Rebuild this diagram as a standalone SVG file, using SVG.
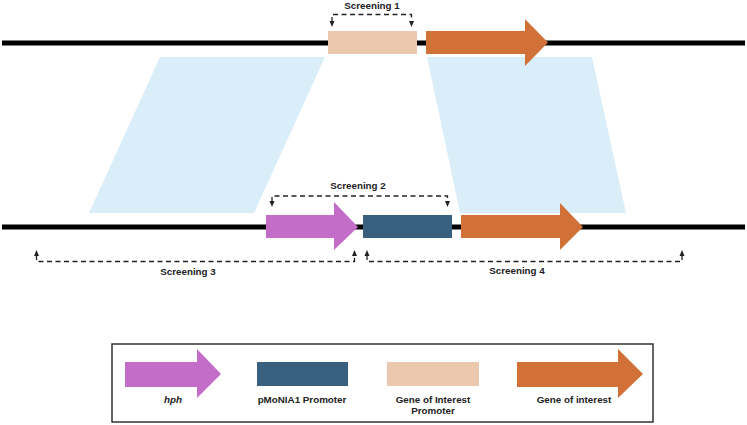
<svg xmlns="http://www.w3.org/2000/svg" width="747" height="425" viewBox="0 0 747 425">
<style>
.dna{stroke:#000;stroke-width:5;fill:none}
.hom{fill:#DAEEFA}
.peach{fill:#EBC8AE}
.orange{fill:#D27137}
.pink{fill:#C36DC9}
.navy{fill:#3A6080}
.br{stroke:#222;stroke-width:1.3;fill:none;stroke-dasharray:5 3.5}
.lbl{font-family:"Liberation Sans",Arial,sans-serif;font-weight:bold;font-size:9.8px;fill:#222;text-anchor:middle}
</style>
<g id="homology">
<polygon class="hom" points="160,57 325,57 254,213 89,213"/>
<polygon class="hom" points="427,57 592,57 626,213 460,213"/>
</g>
<g id="dna-lines">
<line class="dna" x1="2" y1="43" x2="745" y2="43"/>
<line class="dna" x1="2" y1="227" x2="745" y2="227"/>
</g>
<g id="top-promoter"><rect class="peach" x="328" y="31" width="89" height="23"/></g>
<g id="top-gene"><polygon class="orange" points="426,31 525,31 525,19 548,42.5 525,66 525,54 426,54"/></g>
<g id="hph"><polygon class="pink" points="266,215 334,215 334,202 358,227 334,250 334,238 266,238"/></g>
<g id="pMoNIA1"><rect class="navy" x="363" y="215" width="89" height="23"/></g>
<g id="bottom-gene"><polygon class="orange" points="461,215 560,215 560,203 583,227 560,250 560,238 461,238"/></g>
<g id="connectors">
<path class="br" d="M332,22 V14.5 H411.5 V22" />
<path class="br" d="M272,202 V196 H447.5 V202" />
<path class="br" d="M36.5,255 V261.5 H354.5 V255" />
<path class="br" d="M367,255 V261.5 H682 V255" />
<g fill="#222">
<path d="M329.5,21 L334.5,21 L332,27 Z"/>
<path d="M409,21 L414,21 L411.5,27 Z"/>
<path d="M269.5,201 L274.5,201 L272,207 Z"/>
<path d="M445,201 L450,201 L447.5,207 Z"/>
<path d="M34,256 L39,256 L36.5,250 Z"/>
<path d="M352,256 L357,256 L354.5,250 Z"/>
<path d="M364.5,256 L369.5,256 L367,250 Z"/>
<path d="M679.5,256 L684.5,256 L682,250 Z"/>
</g>
</g>
<g id="screening-labels">
<text class="lbl" x="372" y="9">Screening 1</text>
<text class="lbl" x="358" y="189">Screening 2</text>
<text class="lbl" x="188" y="275">Screening 3</text>
<text class="lbl" x="517" y="274">Screening 4</text>
</g>
<g id="legend">
<rect x="112" y="344" width="541" height="78" fill="#fff" stroke="#333" stroke-width="1.5"/>
<polygon class="pink" points="125,362 197,362 197,349 221,374 197,398 197,387 125,387"/>
<rect class="navy" x="257" y="362" width="91" height="24"/>
<rect class="peach" x="387" y="362" width="92" height="24"/>
<polygon class="orange" points="517,362 618,362 618,349 643,374 618,398 618,387 517,387"/>
<text class="lbl" x="173" y="403" font-style="italic">hph</text>
<text class="lbl" x="302" y="403">pMoNIA1 Promoter</text>
<text class="lbl" x="433" y="403">Gene of Interest</text>
<text class="lbl" x="433" y="414">Promoter</text>
<text class="lbl" x="574" y="403">Gene of interest</text>
</g>
</svg>
